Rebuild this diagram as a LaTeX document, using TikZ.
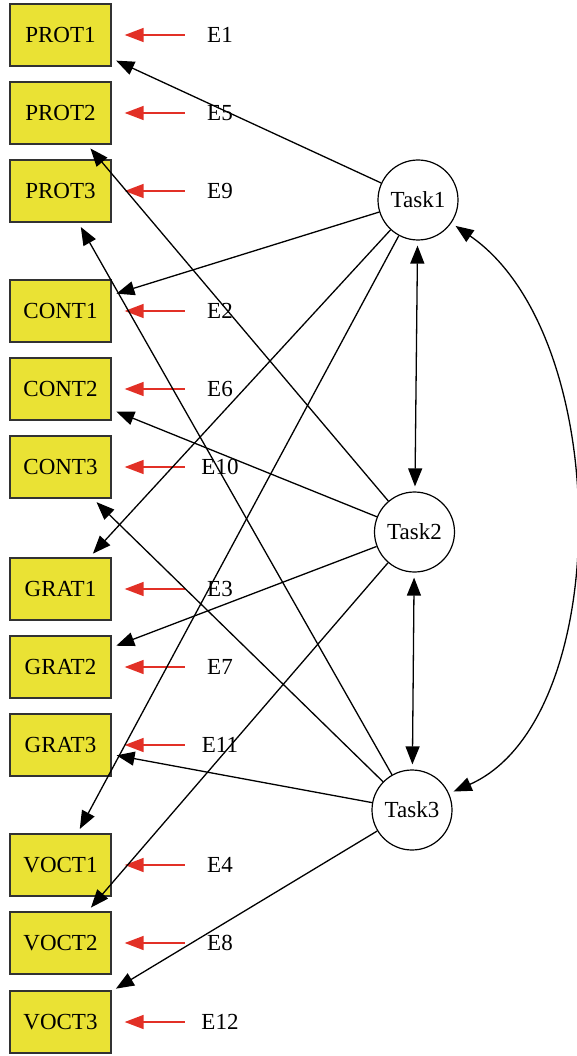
\documentclass[tikz,border=0pt]{standalone}
\usepackage{fontspec}
\setmainfont{Liberation Serif}
\usetikzlibrary{arrows.meta}
\definecolor{boxyellow}{RGB}{234,226,52}
\definecolor{boxedge}{RGB}{50,50,50}
\definecolor{errred}{RGB}{226,48,38}
\tikzset{
  var/.style={draw=boxedge, line width=1.3pt, fill=boxyellow, minimum width=101pt, minimum height=62pt, inner sep=0pt, font=\fontsize{23}{25}\selectfont},
  task/.style={draw, circle, line width=1.2pt, minimum size=80pt, inner sep=0pt, font=\fontsize{23}{25}\selectfont},
  errlab/.style={minimum width=40pt, inner sep=0pt, font=\fontsize{23}{25}\selectfont},
  load/.style={line width=1.3pt, -{Triangle[length=18pt,width=14pt]}, shorten >=5pt},
  bi/.style={line width=1.3pt, {Triangle[length=18pt,width=14pt]}-{Triangle[length=18pt,width=14pt]}, shorten >=5pt, shorten <=5pt},
  err/.style={draw=errred, line width=1.6pt, -{Triangle[length=19pt,width=14pt]}, shorten <=15pt, shorten >=13pt},
}
\begin{document}
\begin{tikzpicture}[x=1pt,y=-1pt]
\useasboundingbox (0,0) rectangle (576,1056);
% measured variables
\node[var] (p1) at (60.5,35) {PROT1};
\node[var] (p2) at (60.5,113) {PROT2};
\node[var] (p3) at (60.5,191) {PROT3};
\node[var] (c1) at (60.5,311) {CONT1};
\node[var] (c2) at (60.5,389) {CONT2};
\node[var] (c3) at (60.5,467) {CONT3};
\node[var] (g1) at (60.5,589) {GRAT1};
\node[var] (g2) at (60.5,667) {GRAT2};
\node[var] (g3) at (60.5,745) {GRAT3};
\node[var] (v1) at (60.5,865) {VOCT1};
\node[var] (v2) at (60.5,943) {VOCT2};
\node[var] (v3) at (60.5,1022) {VOCT3};
% error labels
\node[errlab] (e1) at (220,35) {E1};
\node[errlab] (e5) at (220,113) {E5};
\node[errlab] (e9) at (220,191) {E9};
\node[errlab] (e2) at (220,311) {E2};
\node[errlab] (e6) at (220,389) {E6};
\node[errlab] (e10) at (220,467) {E10};
\node[errlab] (e3) at (220,589) {E3};
\node[errlab] (e7) at (220,667) {E7};
\node[errlab] (e11) at (220,745) {E11};
\node[errlab] (e4) at (220,865) {E4};
\node[errlab] (e8) at (220,943) {E8};
\node[errlab] (e12) at (220,1022) {E12};
% latent tasks
\node[task] (t1) at (418,200) {Task1};
\node[task] (t2) at (414.5,532) {Task2};
\node[task] (t3) at (412,810) {Task3};
% error arrows
\foreach \e/\v in {e1/p1,e5/p2,e9/p3,e2/c1,e6/c2,e10/c3,e3/g1,e7/g2,e11/g3,e4/v1,e8/v2,e12/v3}
  \draw[err] (\e.west) -- (\v.east);
% loadings
\foreach \v in {p1,c1,g1,v1} \draw[load] (t1) -- (\v);
\foreach \v in {p2,c2,g2,v2} \draw[load] (t2) -- (\v);
\foreach \v in {p3,c3,g3,v3} \draw[load] (t3) -- (\v);
% covariances
\draw[bi] (t1) -- (t2);
\draw[bi] (t2) -- (t3);
\draw[bi] (t1) .. controls (615,336) and (615,720) .. (t3);
\end{tikzpicture}
\end{document}
